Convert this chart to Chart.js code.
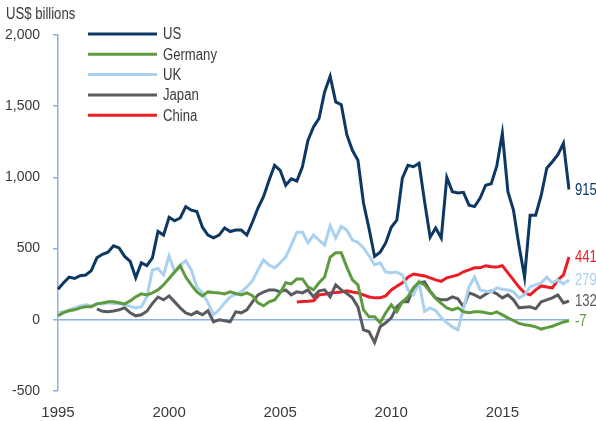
<!DOCTYPE html>
<html>
<head>
<meta charset="utf-8">
<script src="https://cdn.jsdelivr.net/npm/chart.js@4.4.1/dist/chart.umd.min.js"></script>
<style>
  html, body { margin: 0; padding: 0; background: #fff; }
  #wrap { width: 596px; height: 421px; position: relative; }
</style>
</head>
<body>
<div id="wrap"><canvas id="chart"></canvas></div>
<script>
// ─── DATA ───────────────────────────────────────────────────────
const FIRST_YEAR = 1995;
const LAST_YEAR = 2018;
const yearTicks = ["1995", "2000", "2005", "2010", "2015"];
const seriesNames = ["US", "Germany", "UK", "Japan", "China"];

const us = [
  215, 260, 300, 290, 310, 315, 345, 435, 460, 475,
  520, 505, 445, 410, 295, 400, 380, 435, 620, 595,
  720, 695, 715, 795, 770, 760, 650, 595, 575, 595,
  645, 620, 630, 630, 595, 685, 785, 865, 980, 1085,
  1050, 945, 990, 975, 1075, 1260, 1355, 1415, 1600, 1710,
  1530, 1510, 1300, 1190, 1120, 820, 640, 445, 475, 540,
  650, 700, 995, 1085, 1075, 1100, 830, 580, 645, 575,
  1000, 900, 890, 895, 805, 795, 855, 945, 955, 1080,
  1310, 900, 770, 520, 300, 735, 735, 875, 1065, 1110,
  1160, 1240, 915,
];

const germany = [
  28, 50, 63, 70, 84, 91, 91, 112, 118, 126,
  126, 120, 112, 133, 161, 182, 175, 189, 210, 245,
  290, 335, 380, 300, 245, 196, 168, 196, 192, 189,
  182, 196, 185, 175, 189, 170, 119, 98, 126, 140,
  189, 260, 252, 287, 287, 231, 210, 260, 300, 440,
  470, 470, 370, 280, 245, 70, 21, 21, -21, 49,
  105, 56, 126, 161, 224, 266, 245, 196, 150, 115,
  84, 70, 84, 56, 49, 56, 56, 50, 42, 56,
  35, 14, -5, -25, -35, -40, -50, -65, -55, -45,
  -30, -15, -7,
];

const uk = [
  49, 56, 70, 84, 98, 105, 98, 112, 112, 119,
  115, 112, 105, 95, 84, 91, 160, 350, 360, 315,
  450, 335, 385, 415, 350, 231, 189, 119, 35, 70,
  119, 161, 180, 196, 231, 275, 350, 420, 385, 365,
  400, 440, 525, 615, 615, 540, 595, 560, 525, 660,
  575, 655, 630, 560, 545, 505, 450, 385, 400, 335,
  330, 335, 315, 210, 175, 260, 60, 84, 65, 15,
  -20, -50, -70, 80, 231, 300, 210, 200, 196, 224,
  215, 210, 196, 154, 175, 231, 245, 260, 300, 260,
  280, 252, 279,
];

const japan = [
  null, null, null, null, null, null, null, 77, 60, 56,
  62, 70, 84, 49, 28, 35, 60, 115, 160, 140,
  168, 126, 84, 49, 35, 56, 35, 63, -14, 0,
  -7, -14, 56, 49, 70, 126, 175, 195, 210, 210,
  196, 210, 175, 196, 189, 210, 161, 203, 210, 161,
  245, 210, 185, 154, 91, -70, -84, -160, -49, -21,
  14, 91, 126, 126, 224, 260, 266, 200, 154, 140,
  140, 161, 147, 91, 189, 175, 154, 180, 203, 182,
  154, 175, 140, 84, 88, 91, 77, 126, 140, 154,
  175, 119, 132,
];

const china = [
  null, null, null, null, null, null, null, null, null, null,
  null, null, null, null, null, null, null, null, null, null,
  null, null, null, null, null, null, null, null, null, null,
  null, null, null, null, null, null, null, null, null, null,
  null, null, null, 125, 128, 130, 133, 175, 180, 189,
  192, 196, 203, 195, 189, 175, 160, 154, 154, 168,
  210, 235, 260, 300, 322, 315, 308, 294, 280, 270,
  295, 305, 315, 337, 350, 365, 365, 380, 372, 370,
  380, 330, 280, 230, 189, 175, 210, 238, 230, 224,
  280, 315, 441,
];

const yTicks = [-500, 0, 500, 1000, 1500, 2000];

// etiquetas trimestrales 1995 Q1 .. 2018 Q1
const quarters = [];
for (let y = FIRST_YEAR; y <= LAST_YEAR; y++) {
  for (let q = 1; q <= 4; q++) quarters.push(y + " Q" + q);
}
quarters.length = us.length;

// ─── PALETA ─────────────────────────────────────────────────────
const C = {
  navy:  "#0c3863",
  green: "#5e9b3f",
  sky:   "#aad1f0",
  gray:  "#585b60",
  red:   "#ec1c24",
  axis:  "#8eb1dc",
  text:  "#3a3a3a",
};
const FONT = "'Liberation Sans', Arial, sans-serif";
const SQUEEZE = 0.82; // Arial estrechada ≈ Arial Narrow

Chart.defaults.font.family = FONT;
Chart.defaults.color = C.text;

function line(label, data, color) {
  return {
    label, data,
    borderColor: color,
    backgroundColor: color,
    borderWidth: 3,
    pointRadius: 0,
    tension: 0,
    spanGaps: false,
  };
}

function narrowText(ctx, txt, x, y) {
  ctx.save();
  ctx.translate(x, y);
  ctx.scale(SQUEEZE, 1);
  ctx.fillText(txt, 0, 0);
  ctx.restore();
}

// ─── PLUGINS ────────────────────────────────────────────────────
const extras = {
  id: "extras",
  afterDatasetsDraw(chart) {
    const ctx = chart.ctx;
    ctx.save();
    ctx.textBaseline = "middle";
    ctx.textAlign = "left";

    // Título del eje
    ctx.font = "16px " + FONT;
    ctx.fillStyle = C.text;
    narrowText(ctx, "US$ billions", 6, 15);

    // Leyenda
    chart.data.datasets.forEach((ds, i) => {
      const y = 34 + i * 20.3;
      ctx.strokeStyle = ds.borderColor;
      ctx.lineWidth = 3;
      ctx.beginPath();
      ctx.moveTo(88, y);
      ctx.lineTo(157, y);
      ctx.stroke();
      ctx.fillStyle = C.text;
      narrowText(ctx, ds.label, 163, y + 1);
    });

    // Etiquetas al final de cada serie
    chart.data.datasets.forEach((ds, i) => {
      const meta = chart.getDatasetMeta(i);
      const last = ds.data.length - 1;
      const pt = meta.data[last];
      if (!pt) return;
      ctx.fillStyle = ds.borderColor;
      narrowText(ctx, String(ds.data[last]), pt.x + 6, pt.y + 1);
    });
    ctx.restore();
  },
};

// ─── CHART ──────────────────────────────────────────────────────
new Chart(document.getElementById("chart"), {
  type: "line",
  data: {
    labels: quarters,
    datasets: [
      line(seriesNames[0], us, C.navy),
      line(seriesNames[1], germany, C.green),
      line(seriesNames[2], uk, C.sky),
      line(seriesNames[3], japan, C.gray),
      line(seriesNames[4], china, C.red),
    ],
  },
  options: {
    responsive: true,
    maintainAspectRatio: false,
    animation: false,
    layout: { padding: { top: 35, right: 27, bottom: 0, left: 0 } },
    plugins: { legend: { display: false }, tooltip: { enabled: false } },
    scales: {
      x: {
        type: "category",
        offset: false,
        border: { display: false },
        grid: { display: false, drawTicks: false },
        ticks: {
          autoSkip: false,
          maxRotation: 0,
          padding: 13,
          font: { size: 15 },
          color: C.text,
          callback(v, i) {
            const lab = quarters[i];
            const yr = lab.slice(0, 4);
            return lab.endsWith("Q1") && yearTicks.includes(yr) ? yr : null;
          },
        },
        afterFit(s) { s.height = 30; },
      },
      y: {
        min: yTicks[0],
        max: yTicks[yTicks.length - 1],
        border: { display: true, color: C.axis, width: 1.5 },
        grid: {
          drawOnChartArea: true,
          tickLength: 5,
          tickColor: C.axis,
          tickWidth: 1.5,
          lineWidth: 1.5,
          color: c => (c.tick && c.tick.value === 0 ? C.axis : "rgba(0,0,0,0)"),
        },
        afterBuildTicks(s) { s.ticks = yTicks.map(v => ({ value: v })); },
        ticks: {
          padding: 13,
          font: { size: 14 },
          color: C.text,
          callback: v => v.toLocaleString("en-US"),
        },
        afterFit(s) { s.width = 58; },
      },
    },
  },
  plugins: [extras],
});
</script>
</body>
</html>
